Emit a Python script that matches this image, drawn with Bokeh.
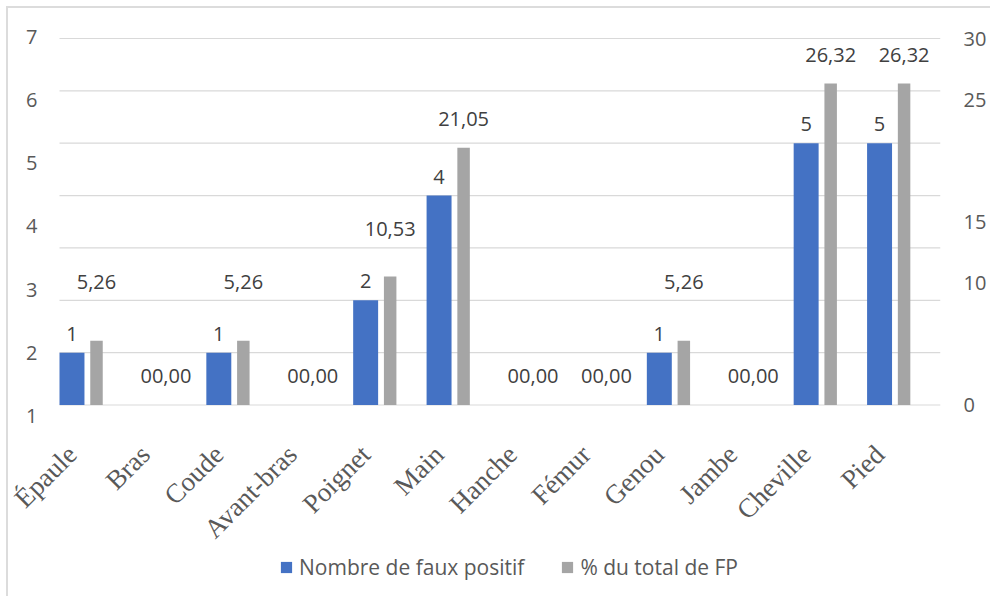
from math import pi
from bokeh.plotting import figure
from bokeh.models import (Range1d, LinearAxis, FixedTicker, ColumnDataSource, LabelSet,
                          Legend, LegendItem)
from bokeh.core.properties import value
from bokeh.embed import file_html
from bokeh.resources import INLINE

# ---------------- data ----------------
categories = ["Épaule", "Bras", "Coude", "Avant-bras", "Poignet", "Main",
              "Hanche", "Fémur", "Genou", "Jambe", "Cheville", "Pied"]
faux_positifs = [1, 0, 1, 0, 2, 4, 0, 0, 1, 0, 5, 5]
pct_total_fp = [5.26, 0, 5.26, 0, 10.53, 21.05, 0, 0, 5.26, 0, 26.32, 26.32]
left_ticks = [1, 2, 3, 4, 5, 6, 7]
right_ticks = [0, 5, 10, 15, 20, 25, 30]
right_hidden = [5, 20]
grid_ticks = [0, 1, 2, 3, 4, 5, 6, 7]

# ---------------- layout constants (px) ----------------
FRAME_W, FRAME_H = 930, 586
PLOT_W = 881      # width of the gridded plot area
PX_L = 52.36      # px per count unit
PX_R = 12.215     # px per percent unit
PX_LAB = 63.33    # px per unit of the left label scale
BASE = 394.5      # baseline distance below frame top
TOP_LAB = 26.0    # "7" label offset below frame top

BLUE = "#4472C4"
GREY = "#A5A5A5"
TXT = "#595959"
LBL = "#404040"
FONT = "Open Sans"

n = len(categories)
PX_X = PLOT_W / n
X0, X1 = -0.17, n - 0.17            # extent of the gridded plot area (data units)
x_range = Range1d(X1 - FRAME_W / PX_X, X1)
y_main = Range1d(-(FRAME_H - BASE) / PX_L, BASE / PX_L)
y_pct = Range1d(-(FRAME_H - BASE) / PX_R, BASE / PX_R)
lab_end = 7 + TOP_LAB / PX_LAB
y_lab = Range1d(lab_end - FRAME_H / PX_LAB, lab_end)

p = figure(frame_width=FRAME_W, frame_height=FRAME_H,
           x_range=x_range, y_range=y_main,
           x_axis_location=None, y_axis_location=None,
           output_backend="svg", toolbar_location=None,
           min_border_left=2, min_border_top=2, min_border_right=50,
           min_border_bottom=0)
p.extra_y_ranges = {"pct": y_pct, "lab": y_lab}
p.outline_line_color = None
for g in p.grid:
    g.visible = False
p.styles = {"margin-left": "6px", "margin-top": "6px",
            "border-left": "2px solid #dcdcdc", "border-top": "2px solid #dcdcdc"}

# horizontal gridlines over the plot area only
p.segment(x0=[X0] * len(grid_ticks), x1=[X1] * len(grid_ticks), y0=grid_ticks, y1=grid_ticks,
          line_color="#d9d9d9", line_width=1.2)

xs = list(range(n))
src = ColumnDataSource(dict(x=xs, xg=[i + 0.334 for i in xs], nb=faux_positifs, pct=pct_total_fp))

r_blue = p.vbar(x="x", top="nb", width=0.34, source=src, fill_color=BLUE, line_color=None)
r_grey = p.vbar(x="xg", top="pct", width=0.17, source=src, fill_color=GREY, line_color=None,
                y_range_name="pct")

# ---- data labels ----
bx, by, bt = [], [], []
for i, v in enumerate(faux_positifs):
    if v > 0:
        bx.append(i); by.append(v); bt.append(str(v))
p.add_layout(LabelSet(x="x", y="y", text="t", source=ColumnDataSource(dict(x=bx, y=by, t=bt)),
                      y_offset=19, text_align="center", text_baseline="middle",
                      text_font=value(FONT), text_font_size="20px", text_color=LBL))

def fr(v):
    return "00,00" if v == 0 else f"{v:.2f}".replace(".", ",")

gx, gy, gt = [], [], []
for i, (b, g) in enumerate(zip(faux_positifs, pct_total_fp)):
    lift = g + 29 / PX_R
    if b > 0:
        lift = max(lift, (b * PX_L + 71) / PX_R)
    gx.append(i + (0.334 if g > 0 else 0.28)); gy.append(lift); gt.append(fr(g))
p.add_layout(LabelSet(x="x", y="y", text="t", source=ColumnDataSource(dict(x=gx, y=gy, t=gt)),
                      y_range_name="pct", text_align="center", text_baseline="middle",
                      text_font=value(FONT), text_font_size="20px", text_color=LBL))

# ---- axes ----
def style_axis(ax):
    ax.axis_line_color = None
    ax.major_tick_line_color = None
    ax.minor_tick_line_color = None
    ax.major_tick_out = 0
    ax.major_tick_in = 0
    ax.major_label_text_font = FONT
    ax.major_label_text_font_size = "20px"
    ax.major_label_text_color = TXT

ax_left = LinearAxis(y_range_name="lab", ticker=FixedTicker(ticks=left_ticks), fixed_location=X0)
style_axis(ax_left)
ax_left.major_label_standoff = 22
p.add_layout(ax_left, "left")

ax_right = LinearAxis(y_range_name="pct", ticker=FixedTicker(ticks=right_ticks),
                      major_label_overrides={t: "" for t in right_hidden})
style_axis(ax_right)
ax_right.major_label_standoff = 23
p.add_layout(ax_right, "right")

# category axis drawn at the baseline (value 0), labels rotated under each category
ax_x = LinearAxis(ticker=FixedTicker(ticks=xs), fixed_location=0,
                  major_label_overrides={i: c for i, c in enumerate(categories)})
style_axis(ax_x)
ax_x.major_label_text_font = "Liberation Serif"
ax_x.major_label_text_font_size = "27px"
ax_x.major_label_orientation = pi / 4
ax_x.major_label_standoff = 45
p.add_layout(ax_x, "below")

legend = Legend(items=[LegendItem(label="Nombre de faux positif", renderers=[r_blue]),
                       LegendItem(label="% du total de FP", renderers=[r_grey])],
                orientation="horizontal", location=(269, 15),
                label_text_font=FONT, label_text_font_size="21px", label_text_color=TXT,
                glyph_width=14, glyph_height=14, spacing=36, label_standoff=6,
                border_line_color=None, background_fill_alpha=0, padding=4, margin=0)
p.add_layout(legend)

open("out.html", "w").write(file_html(p, INLINE))
